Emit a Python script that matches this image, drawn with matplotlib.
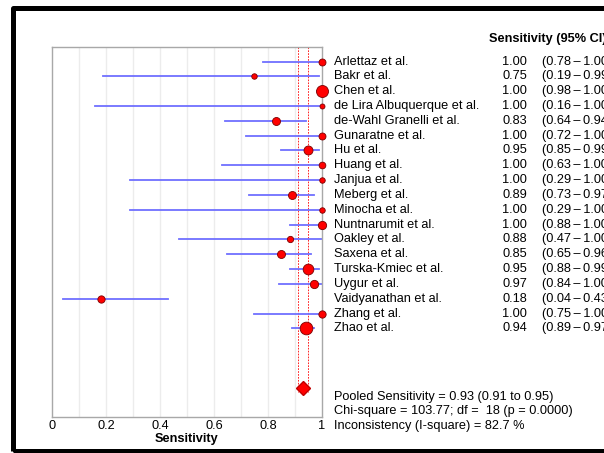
"""Forest plot of pooled sensitivity (Meta-DiSc style)."""
import matplotlib
matplotlib.use('Agg')
import matplotlib.pyplot as plt
import matplotlib.transforms as mtransforms
from matplotlib.patches import Rectangle

plt.rcParams.update({'font.family': ['Liberation Sans', 'DejaVu Sans'], 'font.size': 9.2})

studies = ['Arlettaz et al.', 'Bakr et al.', 'Chen et al.', 'de Lira Albuquerque et al.',
           'de-Wahl Granelli et al.', 'Gunaratne et al.', 'Hu et al.', 'Huang et al.',
           'Janjua et al.', 'Meberg et al.', 'Minocha et al.', 'Nuntnarumit et al.',
           'Oakley et al.', 'Saxena et al.', 'Turska-Kmiec et al.', 'Uygur et al.',
           'Vaidyanathan et al.', 'Zhang et al.', 'Zhao et al.']
sens = [1.00, 0.75, 1.00, 1.00, 0.83, 1.00, 0.95, 1.00, 1.00, 0.89,
        1.00, 1.00, 0.88, 0.85, 0.95, 0.97, 0.18, 1.00, 0.94]
ci_low = [0.78, 0.19, 0.98, 0.16, 0.64, 0.72, 0.85, 0.63, 0.29, 0.73,
          0.29, 0.88, 0.47, 0.65, 0.88, 0.84, 0.04, 0.75, 0.89]
ci_high = [1.00, 0.99, 1.00, 1.00, 0.94, 1.00, 0.99, 1.00, 1.00, 0.97,
           1.00, 1.00, 1.00, 0.96, 0.99, 1.00, 0.43, 1.00, 0.97]
# relative study weights (drawn as marker size)
weights = [7, 5.5, 12, 5, 8, 7, 9, 6.7, 5.5, 8, 5.5, 8.3, 6.3, 8, 10.7, 8.3, 7.3, 7.3, 12.7]

pooled = 0.93
pooled_low = 0.91
pooled_high = 0.95
chi_sq = 103.77
df = 18
p_val = 0.0000
i_sq = 82.7

fig = plt.figure(figsize=(6.04, 4.53), dpi=100)
ax = fig.add_axes([52 / 604, 1 - 417.3 / 453, 270 / 604, (417.3 - 46.7) / 453])

n = len(studies)
rows = list(range(n))
pooled_row = n + 3

# light vertical grid
for g in [0.1, 0.2, 0.3, 0.4, 0.5, 0.6, 0.7, 0.8, 0.9]:
    ax.axvline(g, color='#ececec', linewidth=1, zorder=0)

# pooled CI dotted lines
for v in [pooled_low, pooled_high]:
    ax.plot([v, v], [-1.2, pooled_row + 0.3], color='red', linestyle=(0, (2, 1.5)),
            linewidth=0.6, zorder=1)

for i in rows:
    ax.plot([ci_low[i], ci_high[i]], [i, i], color='#6f6fff', linewidth=1.3, zorder=2)
    ax.plot(sens[i], i, 'o', color='red', markeredgecolor='#7a0000', markeredgewidth=0.6,
            markersize=weights[i] * 0.72, zorder=3, clip_on=False)

ax.plot(pooled, pooled_row, 'D', color='red', markeredgecolor='#c00000', markersize=7.5, zorder=3)

ax.set_xlim(0, 1)
ax.set_ylim(n + 5, -1)
ax.set_xticks([0, 0.2, 0.4, 0.6, 0.8, 1])
ax.set_xticklabels(['0', '0.2', '0.4', '0.6', '0.8', '1'])
ax.set_yticks([])
ax.tick_params(axis='x', length=0, pad=2)
for s in ax.spines.values():
    s.set_color('#a8a8a8')
    s.set_linewidth(1)
ax.set_xlabel('Sensitivity', fontweight='bold', labelpad=1)

# text columns (x in figure fraction, y in data rows)
trans = mtransforms.blended_transform_factory(fig.transFigure, ax.transData)
ax.text(489 / 604, -1.55, 'Sensitivity (95% CI)', transform=trans, fontweight='bold',
        va='center', ha='left')
for i in rows:
    ax.text(334 / 604, i, studies[i], transform=trans, va='center', ha='left')
    ax.text(527 / 604, i, f'{sens[i]:.2f}', transform=trans, va='center', ha='right')
    ax.text(542 / 604, i, f'({ci_low[i]:.2f}\u2009\u2013\u2009{ci_high[i]:.2f})',
            transform=trans, va='center', ha='left')

stats = [f'Pooled Sensitivity = {pooled:.2f} ({pooled_low:.2f} to {pooled_high:.2f})',
         f'Chi-square = {chi_sq:.2f}; df =  {df} (p = {p_val:.4f})',
         f'Inconsistency (I-square) = {i_sq:.1f} %']
for k, line in enumerate(stats):
    fig.text(334 / 604, 1 - (396.7 + k * 14.5) / 453, line, va='center', ha='left')

# thick outer frame (cropped on the right)
fig.patches.append(Rectangle((12.5 / 604, 1 - 450.5 / 453), 700 / 604, 443 / 453,
                             transform=fig.transFigure, fill=False, edgecolor='black',
                             linewidth=3.6, joinstyle='round'))

fig.savefig('out.png', dpi=100)
